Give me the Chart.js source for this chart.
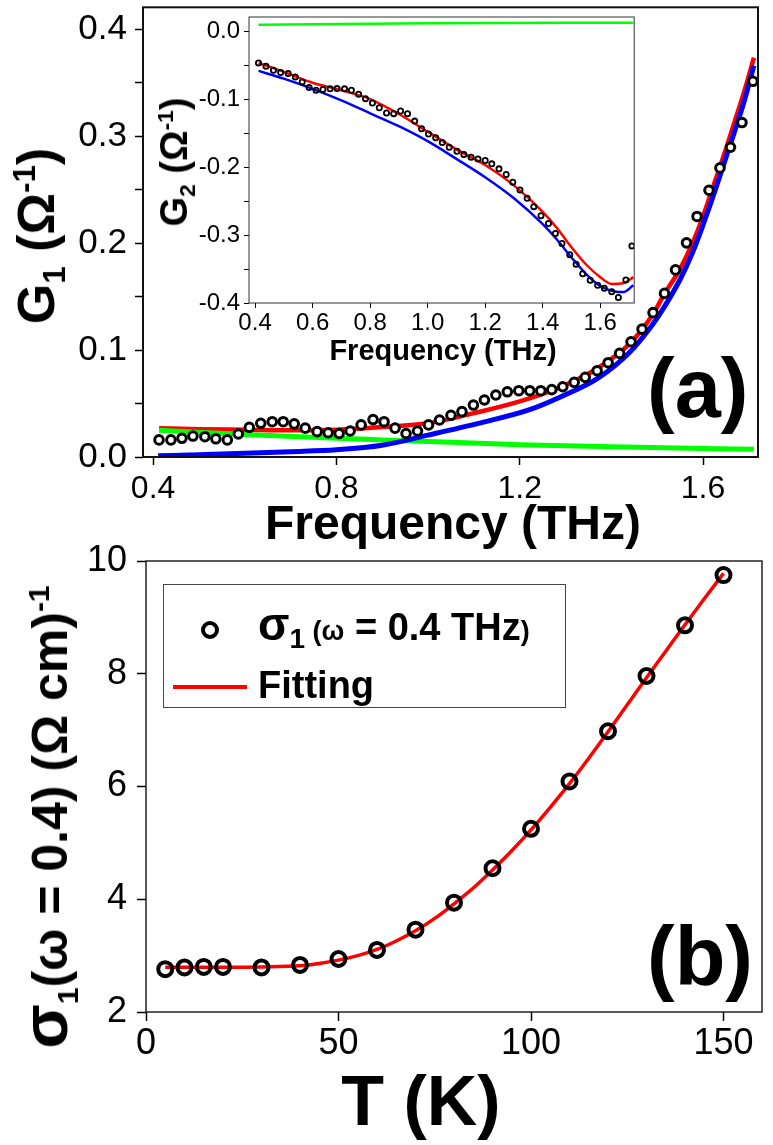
<!DOCTYPE html>
<html>
<head>
<meta charset="utf-8">
<script src="https://cdn.jsdelivr.net/npm/chart.js@4.4.1/dist/chart.umd.min.js"></script>
<style>
  body { margin: 0; background: #fff; }
  #page { position: relative; width: 773px; height: 1145px; overflow: hidden; background: #fff;
          font-family: 'Liberation Sans', Arial, sans-serif; color: #000; }
  canvas { position: absolute; }
  .lbl { position: absolute; font-weight: bold; white-space: nowrap; line-height: 1; }
  .rot { transform: translate(-50%, -50%) rotate(-90deg); }
  .ctr { transform: translateX(-50%); }
  .sb { font-size: 0.6em; position: relative; top: 0.35em; line-height: 0; }
  .sp { font-size: 0.6em; position: relative; top: -0.6em; line-height: 0; }
  .big { line-height: 0; }
  #legend { position: absolute; left: 163px; top: 584px; width: 401px; height: 122px; border: 1px solid #444; }
</style>
</head>
<body>
<div id="page">
  <canvas id="chartA" width="773" height="510" style="left:0;top:0"></canvas>
  <canvas id="chartInset" width="490" height="330" style="left:150px;top:10px"></canvas>
  <canvas id="chartB" width="773" height="530" style="left:0;top:540px"></canvas>

  <div class="lbl rot" style="left:36px;top:236px;font-size:52px">G<span class="sb">1</span>&nbsp;(Ω<span class="sp">-1</span>)</div>
  <div class="lbl ctr" style="left:453px;top:499px;font-size:48px">Frequency (THz)</div>
  <div class="lbl" style="left:647px;top:347px;font-size:83px">(a)</div>

  <div class="lbl rot" style="left:174px;top:162px;font-size:38px">G<span class="sb">2</span>&nbsp;(Ω<span class="sp">-1</span>)</div>
  <div class="lbl ctr" style="left:443px;top:336px;font-size:29px">Frequency (THz)</div>

  <div class="lbl rot" style="left:50px;top:817px;font-size:50px"><span class="big" style="font-size:1.3em">σ</span><span class="sb">1</span>(ω = 0.4) (Ω cm)<span class="sp">-1</span></div>
  <div class="lbl ctr" style="left:421px;top:1066px;font-size:70px">T (K)</div>
  <div class="lbl" style="left:647px;top:915px;font-size:83px">(b)</div>

  <div id="legend"></div>
  <div style="position:absolute;left:201px;top:621px;width:10px;height:10px;border:4px solid #000;border-radius:50%;background:#fff"></div>
  <div class="lbl" style="left:258px;top:608px;font-size:38px"><span class="big" style="font-size:46px">σ</span><span class="big" style="font-size:28px;position:relative;top:8px">1</span><span class="big" style="font-size:27px"> (ω</span> = 0.4 THz<span class="big" style="font-size:27px">)</span></div>
  <div style="position:absolute;left:173px;top:685px;width:74px;height:4px;background:#ff0000"></div>
  <div class="lbl" style="left:258px;top:666px;font-size:38px">Fitting</div>
</div>

<script>
Chart.defaults.font.family = "'Liberation Sans', Arial, sans-serif";
Chart.defaults.color = '#000';

// ---- panel (a): G1 vs frequency ----
const g1Freq = [0.413, 0.439, 0.463, 0.487, 0.513, 0.537, 0.562, 0.586, 0.610, 0.635, 0.660, 0.684, 0.708, 0.732,
  0.758, 0.782, 0.806, 0.830, 0.854, 0.880, 0.904, 0.928, 0.952, 0.977, 1.001, 1.025, 1.050, 1.074, 1.099, 1.123,
  1.148, 1.173, 1.198, 1.222, 1.246, 1.270, 1.294, 1.319, 1.343, 1.369, 1.393, 1.418, 1.443, 1.467, 1.491, 1.516,
  1.540, 1.564, 1.587, 1.613, 1.637, 1.660, 1.685, 1.709];
const g1Data = [0.016, 0.016, 0.0175, 0.0196, 0.019, 0.017, 0.016, 0.0215, 0.0277, 0.0315, 0.033, 0.033, 0.031, 0.027,
  0.0237, 0.0227, 0.022, 0.0243, 0.030, 0.035, 0.033, 0.027, 0.022, 0.0243, 0.030, 0.0346, 0.039, 0.0424, 0.0486, 0.0533,
  0.058, 0.061, 0.062, 0.062, 0.062, 0.063, 0.0657, 0.0698, 0.0745, 0.0807, 0.0882, 0.0969, 0.1078, 0.1196, 0.135, 0.153,
  0.175, 0.2003, 0.225, 0.2495, 0.2704, 0.2897, 0.3128, 0.3514];

const g1RedX = [0.413, 0.5, 0.6, 0.7, 0.8, 0.9, 1.0, 1.1, 1.2, 1.29, 1.37, 1.44, 1.49, 1.515, 1.55, 1.576, 1.6, 1.623, 1.65, 1.667, 1.69, 1.711];
const g1RedY = [0.027, 0.026, 0.0255, 0.025, 0.0255, 0.028, 0.0315, 0.041, 0.052, 0.0655, 0.083, 0.106, 0.133, 0.152, 0.176, 0.199, 0.225, 0.254, 0.288, 0.311, 0.342, 0.3735];
const g1BlueX = [0.411, 0.5, 0.6, 0.7, 0.8, 0.9, 1.0, 1.11, 1.22, 1.29, 1.37, 1.44, 1.49, 1.515, 1.55, 1.576, 1.6, 1.623, 1.65, 1.667, 1.69, 1.711];
const g1BlueY = [0.0012, 0.002, 0.0035, 0.005, 0.0068, 0.011, 0.0205, 0.0315, 0.044, 0.0564, 0.0735, 0.098, 0.124, 0.14, 0.166, 0.19, 0.217, 0.245, 0.28, 0.302, 0.333, 0.366];
const g1GreenX = [0.413, 0.6, 0.8, 0.9, 1.0, 1.2, 1.4, 1.6, 1.711];
const g1GreenY = [0.025, 0.021, 0.0175, 0.016, 0.0145, 0.0115, 0.0095, 0.008, 0.0072];

const aXTicks = [0.4, 0.8, 1.2, 1.6];
const aYTicks = [0, 0.05, 0.1, 0.15, 0.2, 0.25, 0.3, 0.35, 0.4];
const aYLabels = [0, 0.1, 0.2, 0.3, 0.4];

// ---- inset: G2 vs frequency ----
const g2Freq = [0.412, 0.438, 0.464, 0.489, 0.515, 0.540, 0.564, 0.588, 0.612, 0.636, 0.661, 0.685, 0.711, 0.735,
  0.760, 0.784, 0.808, 0.832, 0.857, 0.882, 0.906, 0.930, 0.955, 0.979, 1.003, 1.028, 1.051, 1.075, 1.102, 1.126,
  1.151, 1.175, 1.200, 1.223, 1.248, 1.273, 1.296, 1.321, 1.346, 1.369, 1.394, 1.420, 1.444, 1.467, 1.494, 1.516,
  1.539, 1.565, 1.591, 1.614, 1.640, 1.663, 1.689, 1.710];
const g2Data = [-0.0468, -0.0517, -0.0576, -0.061, -0.0625, -0.0674, -0.0748, -0.083, -0.087, -0.086, -0.085, -0.0846, -0.085, -0.087,
  -0.093, -0.0994, -0.1058, -0.1127, -0.1205, -0.1215, -0.1176, -0.1215, -0.1324, -0.1436, -0.1515, -0.157, -0.164, -0.171, -0.1767, -0.1815,
  -0.1855, -0.188, -0.1904, -0.1953, -0.2027, -0.211, -0.2224, -0.2337, -0.246, -0.2583, -0.2716, -0.283, -0.2977, -0.3125, -0.329, -0.343,
  -0.357, -0.3665, -0.374, -0.3783, -0.3833, -0.392, -0.366, -0.316];

const g2RedX = [0.412, 0.5, 0.6, 0.7, 0.8, 0.9, 1.0, 1.1, 1.2, 1.3, 1.4, 1.45, 1.5, 1.55, 1.6, 1.64, 1.68, 1.715];
const g2RedY = [-0.047, -0.06, -0.076, -0.087, -0.1, -0.122, -0.148, -0.174, -0.197, -0.227, -0.266, -0.29, -0.318, -0.343, -0.362, -0.372, -0.371, -0.362];
const g2BlueX = [0.412, 0.5, 0.6, 0.7, 0.8, 0.9, 1.0, 1.1, 1.2, 1.3, 1.4, 1.45, 1.5, 1.55, 1.6, 1.65, 1.68, 1.715];
const g2BlueY = [-0.0586, -0.07, -0.085, -0.102, -0.121, -0.14, -0.162, -0.188, -0.215, -0.246, -0.284, -0.307, -0.333, -0.357, -0.375, -0.383, -0.384, -0.374];
const g2GreenX = [0.412, 1.0, 1.715];
const g2GreenY = [0.0093, 0.0115, 0.0123];

const inXTicks = [0.4, 0.6, 0.8, 1.0, 1.2, 1.4, 1.6];
const inYTicks = [-0.4, -0.35, -0.3, -0.25, -0.2, -0.15, -0.1, -0.05, 0];
const inYLabels = [-0.4, -0.3, -0.2, -0.1, 0];

// ---- panel (b): sigma1 at 0.4 THz vs T ----
const tempK = [5, 10, 15, 20, 30, 40, 50, 60, 70, 80, 90, 100, 110, 120, 130, 140, 150];
const sigma1 = [2.76, 2.79, 2.80, 2.80, 2.79, 2.835, 2.94, 3.10, 3.46, 3.94, 4.55, 5.25, 6.09, 6.98, 7.96, 8.86, 9.75];
const fitT = [5, 10, 20, 30, 40, 45, 50, 55, 60, 65, 70, 75, 80, 85, 90, 95, 100, 105, 110, 115, 120, 125, 130, 135, 140, 145, 150];
const fitSigma = [2.795, 2.795, 2.795, 2.80, 2.82, 2.86, 2.92, 3.0, 3.11, 3.26, 3.44, 3.66, 3.92, 4.2, 4.52, 4.86, 5.23, 5.63, 6.05, 6.5, 6.97, 7.45, 7.93, 8.4, 8.87, 9.33, 9.78];

const bXTicks = [0, 50, 100, 150];
const bYTicks = [2, 4, 6, 8, 10];

const pts = (xs, ys) => xs.map((x, i) => ({x: x, y: ys[i]}));

// frame round the plot area
const framePlugin = {
  id: 'frame',
  afterDraw(chart, args, o) {
    const {ctx, chartArea: a} = chart;
    ctx.save();
    ctx.strokeStyle = o.color;
    ctx.lineWidth = o.width;
    ctx.strokeRect(a.left, a.top, a.right - a.left, a.bottom - a.top);
    ctx.restore();
  }
};

function axis(o) {
  return {
    type: 'linear',
    min: o.min,
    max: o.max,
    afterBuildTicks: s => { s.ticks = o.ticks.map(v => ({value: v})); },
    afterFit: s => {
      if (o.width) s.width = o.width;
      if (o.height) s.height = o.height;
      s.paddingTop = s.paddingBottom = s.paddingLeft = s.paddingRight = 0;
    },
    grid: {drawOnChartArea: false, drawTicks: true, tickLength: o.tick, tickWidth: o.tickWidth || 1.5, tickColor: '#000'},
    border: {display: false},
    ticks: {
      padding: o.pad,
      font: {size: o.font},
      color: '#000',
      maxRotation: 0,
      autoSkip: false,
      callback: v => (o.labels || o.ticks).includes(v) ? v.toFixed(o.dec) : ''
    }
  };
}

function circles(data, r, bw, fill) {
  return {data: data, showLine: false, pointStyle: 'circle', pointRadius: r, pointBorderWidth: bw,
          pointBorderColor: '#000', pointBackgroundColor: fill, order: 0};
}
function curve(data, color, w, order) {
  return {data: data, showLine: true, pointRadius: 0, borderColor: color, borderWidth: w,
          cubicInterpolationMode: 'monotone', fill: false, order: order};
}

function baseOptions(pad, frame, xAxis, yAxis) {
  return {
    responsive: false,
    animation: false,
    devicePixelRatio: 1,
    layout: {padding: pad},
    plugins: {legend: {display: false}, tooltip: {enabled: false}, frame: frame},
    scales: {x: xAxis, y: yAxis}
  };
}

new Chart(document.getElementById('chartA'), {
  type: 'scatter',
  data: {datasets: [
    circles(pts(g1Freq, g1Data), 4.3, 3, '#fff'),
    curve(pts(g1BlueX, g1BlueY), '#0000ff', 5, 1),
    curve(pts(g1GreenX, g1GreenY), '#00ff00', 5, 2),
    curve(pts(g1RedX, g1RedY), '#ff0000', 4.5, 3)
  ]},
  options: baseOptions({top: 7, right: 15, left: 0, bottom: 0}, {color: '#111', width: 2},
    axis({min: 0.378, max: 1.72, ticks: aXTicks, dec: 1, tick: 8, pad: 5, font: 32, height: 53}),
    axis({min: 0, max: 0.4206, ticks: aYTicks, labels: aYLabels, dec: 1, tick: 8, pad: 8, font: 35, width: 143})),
  plugins: [framePlugin]
});

new Chart(document.getElementById('chartInset'), {
  type: 'scatter',
  data: {datasets: [
    circles(pts(g2Freq, g2Data), 2.6, 1.8, 'rgba(0,0,0,0)'),
    curve(pts(g2BlueX, g2BlueY), '#0000ff', 2.5, 1),
    curve(pts(g2GreenX, g2GreenY), '#00ff00', 2.5, 2),
    curve(pts(g2RedX, g2RedY), '#ff0000', 2.5, 3)
  ]},
  options: baseOptions({top: 7, right: 4, left: 0, bottom: 0}, {color: '#333', width: 1},
    axis({min: 0.379, max: 1.718, ticks: inXTicks, dec: 1, tick: 5, pad: 1, font: 24, height: 37, tickWidth: 1}),
    axis({min: -0.4, max: 0.0207, ticks: inYTicks, labels: inYLabels, dec: 1, tick: 5, pad: 4, font: 24, width: 99, tickWidth: 1})),
  plugins: [framePlugin]
});

new Chart(document.getElementById('chartB'), {
  type: 'scatter',
  data: {datasets: [
    circles(pts(tempK, sigma1), 7, 4, 'rgba(0,0,0,0)'),
    curve(pts(fitT, fitSigma), '#ff0000', 3.5, 1)
  ]},
  options: baseOptions({top: 21, right: 7, left: 0, bottom: 0}, {color: '#222', width: 1.5},
    axis({min: 0, max: 160, ticks: bXTicks, dec: 0, tick: 9, pad: 1, font: 36, height: 58}),
    axis({min: 2, max: 10, ticks: bYTicks, dec: 0, tick: 9, pad: 10, font: 36, width: 146})),
  plugins: [framePlugin]
});
</script>
</body>
</html>
